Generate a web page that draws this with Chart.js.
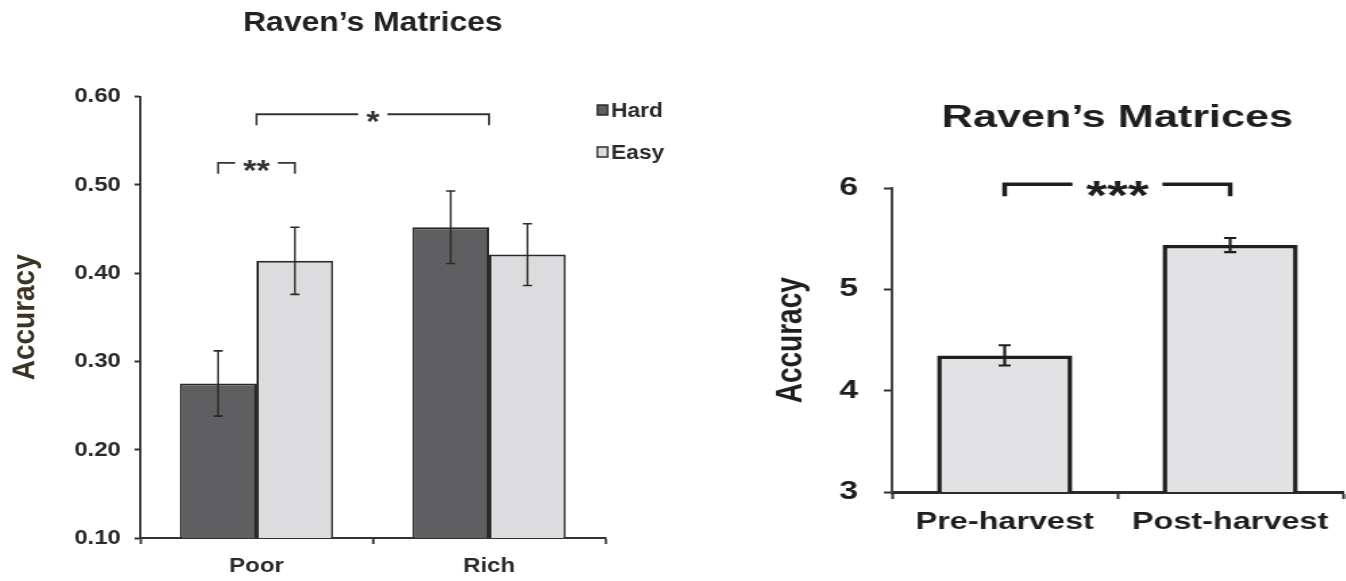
<!DOCTYPE html>
<html>
<head>
<meta charset="utf-8">
<script src="https://cdn.jsdelivr.net/npm/chart.js@4.4.1/dist/chart.umd.min.js"></script>
<style>
    html, body { margin: 0; padding: 0; background: #fff; overflow: hidden; }
    .panel { position: absolute; top: 0; transform-origin: 0 0; }
    /* the figure is printed horizontally stretched, so each panel is scaled the same way */
    #leftPanel { left: 0; transform: scaleX(1.14); }
    #rightPanel { left: 680px; transform: scaleX(1.35); }
</style>
</head>
<body>
<div class="panel" id="leftPanel"><canvas id="wealthChart" width="596" height="581"></canvas></div>
<div class="panel" id="rightPanel"><canvas id="harvestChart" width="493" height="581"></canvas></div>

<script>
// Left panel data
const groups = ['Poor', 'Rich'];
const hardAcc = [0.275, 0.452];
const hardErr = [0.037, 0.041];
const easyAcc = [0.414, 0.421];
const easyErr = [0.038, 0.035];

// Right panel data
const periods = ['Pre-harvest', 'Post-harvest'];
const harvestAcc = [4.35, 5.44];
const harvestErr = [0.10, 0.07];

const FONT = "'Liberation Sans', Arial, Helvetica, sans-serif";
const INK = '#2a2a2a';

// x position of a bracket end: [datasetIndex, index] = bar centre, number = category centre
function refX(chart, ref) {
    if (Array.isArray(ref)) return chart.getDatasetMeta(ref[0]).data[ref[1]].x;
    return chart.scales.x.getPixelForValue(ref);
}

const errorBarPlugin = {
    id: 'errorBars',
    afterDatasetsDraw(chart, args, opts) {
        const ctx = chart.ctx;
        const yScale = chart.scales.y;
        ctx.save();
        ctx.strokeStyle = opts.color;
        ctx.lineWidth = opts.lineWidth;
        chart.data.datasets.forEach((ds, d) => {
            const errs = opts.errors[d];
            chart.getDatasetMeta(d).data.forEach((bar, i) => {
                const top = yScale.getPixelForValue(ds.data[i] + errs[i]);
                const bot = yScale.getPixelForValue(ds.data[i] - errs[i]);
                ctx.beginPath();
                ctx.moveTo(bar.x, top);
                ctx.lineTo(bar.x, bot);
                ctx.moveTo(bar.x - opts.cap, top);
                ctx.lineTo(bar.x + opts.cap, top);
                ctx.moveTo(bar.x - opts.cap, bot);
                ctx.lineTo(bar.x + opts.cap, bot);
                ctx.stroke();
            });
        });
        ctx.restore();
    }
};

const bracketPlugin = {
    id: 'brackets',
    afterDatasetsDraw(chart, args, opts) {
        const ctx = chart.ctx;
        const yScale = chart.scales.y;
        ctx.save();
        ctx.strokeStyle = opts.color;
        ctx.fillStyle = opts.color;
        ctx.lineWidth = opts.lineWidth;
        ctx.font = opts.font;
        ctx.textAlign = 'center';
        ctx.textBaseline = 'alphabetic';
        opts.items.forEach(b => {
            const x1 = refX(chart, b.from);
            const x2 = refX(chart, b.to);
            const y = yScale.getPixelForValue(b.y);
            const yDrop = y + opts.drop;
            const mid = (x1 + x2) / 2;
            const half = ctx.measureText(b.label).width / 2 + opts.gap;
            ctx.beginPath();
            ctx.moveTo(x1, yDrop);
            ctx.lineTo(x1, y);
            ctx.lineTo(mid - half, y);
            ctx.moveTo(mid + half, y);
            ctx.lineTo(x2, y);
            ctx.lineTo(x2, yDrop);
            ctx.stroke();
            ctx.fillText(b.label, mid, y + opts.textShift);
        });
        ctx.restore();
    }
};

const sideLegendPlugin = {
    id: 'sideLegend',
    afterDraw(chart, args, opts) {
        if (!opts.display) return;
        const ctx = chart.ctx;
        ctx.save();
        ctx.font = opts.font;
        ctx.textBaseline = 'middle';
        chart.data.datasets.forEach((ds, d) => {
            const y = opts.y + d * opts.spacing;
            ctx.fillStyle = ds.backgroundColor;
            ctx.strokeStyle = ds.borderColor;
            ctx.lineWidth = 1.5;
            ctx.fillRect(opts.x, y - opts.box / 2, opts.box - 1, opts.box);
            ctx.strokeRect(opts.x, y - opts.box / 2, opts.box - 1, opts.box);
            ctx.fillStyle = INK;
            ctx.fillText(ds.label, opts.x + opts.box + 2, y + 1);
        });
        ctx.restore();
    }
};

// Left: Poor vs Rich, Hard vs Easy
new Chart(document.getElementById('wealthChart'), {
    type: 'bar',
    data: {
        labels: groups,
        datasets: [{
            label: 'Hard',
            data: hardAcc,
            backgroundColor: '#5f5f61',
            borderColor: INK,
            borderWidth: 2,
            borderSkipped: false,
            barPercentage: 1.0,
            categoryPercentage: 0.66
        }, {
            label: 'Easy',
            data: easyAcc,
            backgroundColor: '#dcdcde',
            borderColor: INK,
            borderWidth: 2,
            borderSkipped: false,
            barPercentage: 1.0,
            categoryPercentage: 0.66
        }]
    },
    plugins: [errorBarPlugin, bracketPlugin, sideLegendPlugin],
    options: {
        responsive: false,
        animation: false,
        layout: { padding: { left: 0, right: 65, top: 0, bottom: 0 } },
        plugins: {
            legend: { display: false },
            tooltip: { enabled: false },
            title: {
                display: true,
                fullSize: false,
                text: 'Raven\u2019s Matrices',
                color: '#222',
                font: { family: FONT, size: 28, weight: 'bold' },
                padding: { top: 6, bottom: 57 }
            },
            errorBars: { errors: [hardErr, easyErr], cap: 4, lineWidth: 1.6, color: INK },
            brackets: {
                color: '#333', lineWidth: 1.8, drop: 11, gap: 7, textShift: 17,
                font: 'bold 30px ' + FONT,
                items: [
                    { from: 0, to: 1, y: 0.58, label: '*' },
                    { from: [0, 0], to: [1, 0], y: 0.525, label: '**' }
                ]
            },
            sideLegend: { display: true, x: 524, y: 110, spacing: 42, box: 10, font: 'bold 20px ' + FONT }
        },
        scales: {
            x: {
                afterFit: (scale) => { scale.height = 43; },
                grid: { display: true, drawOnChartArea: false, drawTicks: true, tickLength: 6, tickColor: '#333', tickWidth: 2 },
                border: { display: true, color: '#333', width: 2 },
                ticks: { color: INK, padding: 10, font: { family: FONT, size: 21, weight: 'bold' } }
            },
            y: {
                min: 0.1,
                max: 0.6,
                afterFit: (scale) => { scale.width = 123; },
                title: {
                    display: true,
                    text: 'Accuracy',
                    color: '#3b3222',
                    font: { family: FONT, size: 28, weight: 'bold' },
                    padding: { top: 5, bottom: 0 }
                },
                grid: { display: true, drawOnChartArea: false, drawTicks: true, tickLength: 5, tickColor: '#333', tickWidth: 2 },
                border: { display: true, color: '#333', width: 2 },
                ticks: {
                    stepSize: 0.1,
                    color: INK,
                    padding: 12,
                    font: { family: FONT, size: 21, weight: 'bold' },
                    callback: (v) => Number(v).toFixed(2)
                }
            }
        }
    }
});

// Right: Pre- vs Post-harvest
new Chart(document.getElementById('harvestChart'), {
    type: 'bar',
    data: {
        labels: periods,
        datasets: [{
            label: 'Accuracy',
            data: harvestAcc,
            backgroundColor: '#e2e2e4',
            borderColor: '#1e1e1e',
            borderWidth: 3.5,
            borderSkipped: false,
            barPercentage: 0.6,
            categoryPercentage: 1.0
        }]
    },
    plugins: [errorBarPlugin, bracketPlugin],
    options: {
        responsive: false,
        animation: false,
        layout: { padding: { left: 0, right: 2, top: 0, bottom: 0 } },
        plugins: {
            legend: { display: false },
            tooltip: { enabled: false },
            title: {
                display: true,
                fullSize: false,
                text: 'Raven\u2019s Matrices',
                color: '#1e1e1e',
                font: { family: FONT, size: 32, weight: 'bold' },
                padding: { top: 99, bottom: 51 }
            },
            errorBars: { errors: [harvestErr], cap: 4.5, lineWidth: 2.2, color: '#1e1e1e' },
            brackets: {
                color: '#1e1e1e', lineWidth: 3.5, drop: 12, gap: 10, textShift: 25,
                font: 'bold 40px ' + FONT,
                items: [
                    { from: [0, 0], to: [0, 1], y: 6.04, label: '***' }
                ]
            }
        },
        scales: {
            x: {
                afterFit: (scale) => { scale.height = 89; },
                grid: { display: true, drawOnChartArea: false, drawTicks: true, tickLength: 7, tickColor: '#333', tickWidth: 2 },
                border: { display: true, color: '#2a2a2a', width: 3 },
                ticks: { color: '#1e1e1e', padding: 9, font: { family: FONT, size: 24, weight: 'bold' } }
            },
            y: {
                min: 3,
                max: 6,
                afterFit: (scale) => { scale.width = 157; },
                title: {
                    display: true,
                    text: 'Accuracy',
                    color: '#1e1e1e',
                    font: { family: FONT, size: 28, weight: 'bold' },
                    padding: { top: 65, bottom: 0 }
                },
                grid: { display: true, drawOnChartArea: false, drawTicks: true, tickLength: 6, tickColor: '#333', tickWidth: 2 },
                border: { display: true, color: '#444', width: 2 },
                ticks: {
                    stepSize: 1,
                    color: '#1e1e1e',
                    padding: 19,
                    font: { family: FONT, size: 25, weight: 'bold' }
                }
            }
        }
    }
});
</script>
</body>
</html>
